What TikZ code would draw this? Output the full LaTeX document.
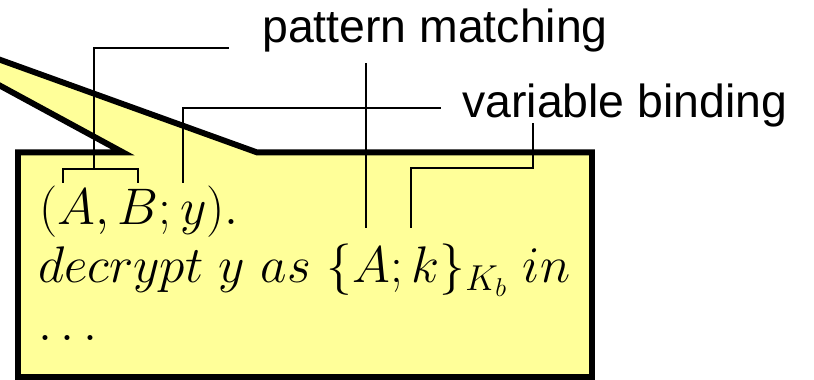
\documentclass[tikz,border=0pt]{standalone}
\usepackage{fix-cm}
\usepackage{fontspec}
\newfontfamily\labelfont{Liberation Sans}
\definecolor{noteyellow}{HTML}{FFFF99}
\tikzset{
  callout/.style={draw, fill=noteyellow, line width=4.2pt, line join=miter},
  pointer/.style={line width=1.4pt},
  tag/.style={font=\labelfont\fontsize{33}{40}\selectfont, inner sep=0pt, anchor=base west},
  code/.style={font=\fontsize{36.6}{44}\selectfont, inner sep=0pt, anchor=base west},
}
\begin{document}
\begin{tikzpicture}[x=1cm,y=1cm]
\useasboundingbox (0,0) rectangle (20.35,9.5);
% speech balloon, tip runs off the left edge
\draw[callout] (0.45,0.075) -- (0.45,5.69) -- (3.075,5.69) -- (-3.55,9.285)
  -- (6.425,5.69) -- (14.8,5.69) -- (14.8,0.075) -- cycle;

\node[code] (l1) at (0.975,3.875) {$(A,B;y).$};
\node[code] (l2) at (0.95,2.425) {$decrypt\ y\ as\ \{A;k\}_{K_b}\ in$};
\node[code] (l3) at (0.95,0.975) {$\ldots$};

\node[tag] (pm) at (6.55,8.425) {pattern matching};
\node[tag] (vb) at (11.55,6.55) {variable binding};

% where the lines touch the code
\coordinate (tA) at (1.575,4.925);
\coordinate (tB) at (3.45,4.925);
\coordinate (tAB) at (2.35,5.275);
\coordinate (ty) at (4.575,4.925);
\coordinate (tA2) at (9.15,3.8);
\coordinate (tk) at (10.275,3.8);
% where they leave the labels
\coordinate (pmend) at ([xshift=-0.825cm,yshift=-0.115cm]pm.base west);
\coordinate (pmfoot) at ([yshift=-0.5cm]pm.base);
\coordinate (vbend) at ([xshift=-0.525cm,yshift=0.25cm]vb.base west);
\coordinate (vbfoot) at (13.325,6.425);

\draw[pointer] (tA) -- (tA |- tAB) -- (tB |- tAB) -- (tB);
\draw[pointer] (tAB) |- (pmend);
\draw[pointer] (tA2) -- (tA2 |- pmfoot);
\draw[pointer] (ty) |- (vbend);
\draw[pointer] (tk) |- (10.275,5.3) -| (vbfoot);
\end{tikzpicture}
\end{document}
